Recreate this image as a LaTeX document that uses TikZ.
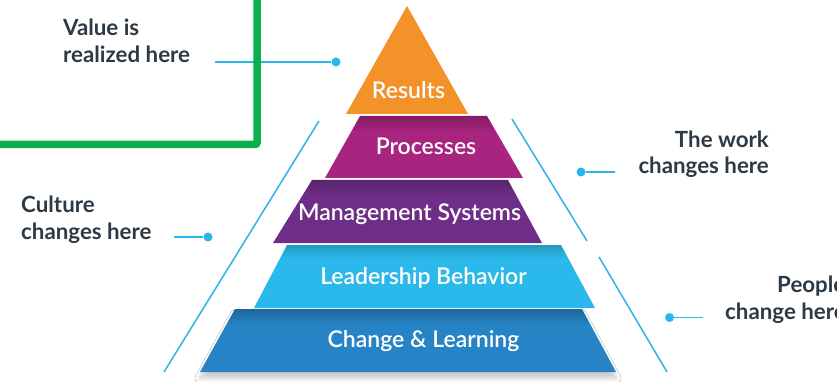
\documentclass[tikz,border=0pt]{standalone}
\usepackage{fontspec}
\setmainfont{Lato}
\IfFontExistsTF{Lato Semibold}{\newfontfamily\semi{Lato Semibold}}{\newfontfamily\semi[FakeBold=1.5]{Lato}}
\usetikzlibrary{shadows.blur}
\definecolor{cOrange}{HTML}{F39229}
\definecolor{cMag}{HTML}{A8247F}
\definecolor{cPurp}{HTML}{6E2E88}
\definecolor{cLight}{HTML}{2BB9EB}
\definecolor{cBlue}{HTML}{2684C6}
\definecolor{cLine}{HTML}{29B6EA}
\definecolor{cGreen}{HTML}{0AB04E}
\definecolor{cText}{HTML}{2D3A46}
\pgfdeclareverticalshading{shMag}{100bp}{color(0bp)=(cMag); color(25bp)=(cMag); color(62bp)=(cMag); color(75bp)=(cMag!78!black); color(100bp)=(cMag!78!black)}
\pgfdeclareverticalshading{shPurp}{100bp}{color(0bp)=(cPurp); color(25bp)=(cPurp); color(62bp)=(cPurp); color(75bp)=(cPurp!80!black); color(100bp)=(cPurp!80!black)}
\pgfdeclareverticalshading{shLight}{100bp}{color(0bp)=(cLight); color(25bp)=(cLight); color(64bp)=(cLight); color(75bp)=(cLight!82!black); color(100bp)=(cLight!82!black)}
\pgfdeclareverticalshading{shBlue}{100bp}{color(0bp)=(cBlue); color(25bp)=(cBlue); color(62bp)=(cBlue); color(75bp)=(cBlue!78!black); color(100bp)=(cBlue!78!black)}
\tikzset{
  layertext/.style={anchor=base, inner sep=0pt, text=white, font=\semi\fontsize{23}{27}\selectfont},
  sidetext/.style={inner sep=0pt, text=cText, font=\bfseries\fontsize{22.3}{27}\selectfont},
  conn/.style={draw=cLine, line width=1.6pt},
  guide/.style={draw=cLine, line width=1.5pt},
  dotnode/.style={circle, fill=cLine, minimum size=9pt, inner sep=0pt},
  greenline/.style={draw=cGreen, line width=7.5pt, rounded corners=2pt},
}
\begin{document}
\begin{tikzpicture}[x=1pt, y=-1pt]
\useasboundingbox (0,0) rectangle (837,382);
\clip (0,0) rectangle (837,382);
\fill[white] (0,0) rectangle (837,382);

% pyramid layers
\path[shading=shBlue, blur shadow={shadow xshift=0pt, shadow yshift=-6pt, shadow blur radius=5pt, shadow opacity=22}]
  (235,309) -- (582,309) -- (616,372) -- (200,372) -- cycle;
\path[shading=shLight] (287,245) -- (561,245) -- (595,308) -- (254,308) -- cycle;
\path[shading=shPurp] (312,180) -- (508,180) -- (542,243) -- (273,243) -- cycle;
\path[shading=shMag] (360,116) -- (487,116) -- (523,178) -- (325,178) -- cycle;
\path[fill=cOrange] (407,6) -- (468,114) -- (346,114) -- cycle;

\node[layertext] (results) at (408.5,99) {Results};
\node[layertext] (processes) at (426,155) {Processes};
\node[layertext] (mgmt) at (409.5,220) {Management Systems};
\node[layertext] (leader) at (423.5,284) {Leadership Behavior};
\node[layertext] (change) at (423.5,347) {Change \& Learning};

% side guide lines
\coordinate (gl1) at (319,121);
\coordinate (gl2) at (164,372);
\coordinate (gr1) at (512,119);
\coordinate (gr2) at (587,241);
\coordinate (gr3) at (599,257);
\coordinate (gr4) at (667,372);
\draw[guide] (gl1) -- (gl2);
\draw[guide] (gr1) -- (gr2);
\draw[guide] (gr3) -- (gr4);

% connectors with dots
\node[dotnode] (dv) at (336,62) {};
\coordinate (ev) at (215,62);
\draw[conn] (ev) -- (dv);
\node[dotnode] (dw) at (581,172) {};
\coordinate (ew) at (615,172);
\draw[conn] (dw) -- (ew);
\node[dotnode] (dc) at (208,237) {};
\coordinate (ec) at (174,237);
\draw[conn] (ec) -- (dc);
\node[dotnode] (dp) at (669.5,317.5) {};
\coordinate (ep) at (703,317.5);
\draw[conn] (dp) -- (ep);

% green frame
\coordinate (g1) at (257,-10);
\coordinate (g2) at (257,144.5);
\coordinate (g3) at (-10,144.5);
\draw[greenline] (g1) -- (g2) -- (g3);

% side labels
\node[sidetext, anchor=base west] (v1) at (63,35.5) {Value is};
\node[sidetext, anchor=base west] (v2) at (63,62.7) {realized here};
\node[sidetext, anchor=base east] (w1) at (769,147.3) {The work};
\node[sidetext, anchor=base east] (w2) at (769,174) {changes here};
\node[sidetext, anchor=base west] (c1) at (21,212.3) {Culture};
\node[sidetext, anchor=base west] (c2) at (21,239.3) {changes here};
\node[sidetext, anchor=base west] (p1) at (777,292) {People};
\node[sidetext, anchor=base west] (p2) at (725,319.5) {change here};
\end{tikzpicture}
\end{document}
